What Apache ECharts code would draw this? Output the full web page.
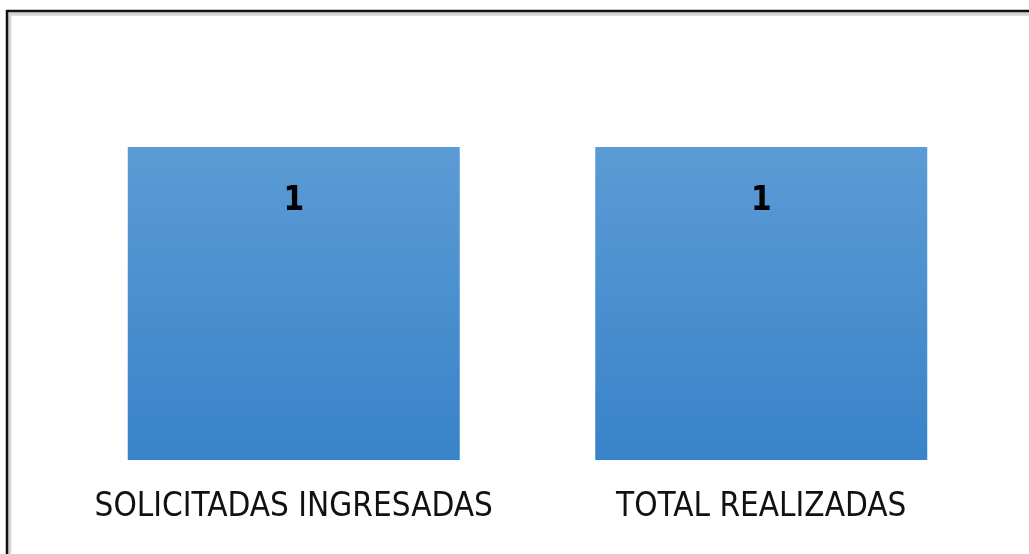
<!DOCTYPE html>
<html>
<head>
<meta charset="utf-8">
<script src="https://cdn.jsdelivr.net/npm/echarts@6/dist/echarts.min.js"></script>
<style>
  html, body { margin: 0; padding: 0; background: #fff; }
  #chart { width: 1029px; height: 554px; }
</style>
</head>
<body>
<div id="chart"></div>
<script>
var categories = ['SOLICITADAS INGRESADAS', 'TOTAL REALIZADAS'];
var values = [1, 1];

var labelFont = '"DejaVu Sans Condensed", "Liberation Sans", sans-serif';

var chart = echarts.init(document.getElementById('chart'));
chart.setOption({
  animation: false,
  backgroundColor: '#fff',
  graphic: [
    { type: 'rect', shape: { x: 9.5, y: 14, width: 1100, height: 600 },
      style: { fill: 'none', stroke: '#d4d4d4', lineWidth: 3.5 } },
    { type: 'rect', shape: { x: 7, y: 11, width: 1100, height: 600 },
      style: { fill: 'none', stroke: '#111', lineWidth: 2.5 } }
  ],
  grid: { left: 60, right: 34, top: 147, bottom: 94 },
  xAxis: {
    type: 'category',
    data: categories,
    axisLine: { show: false },
    axisTick: { show: false },
    axisLabel: {
      interval: 0,
      margin: 31,
      color: '#111',
      fontFamily: labelFont,
      fontSize: 33
    }
  },
  yAxis: { type: 'value', min: 0, max: 1, show: false, splitLine: { show: false } },
  series: [{
    type: 'bar',
    data: values,
    barWidth: 332,
    itemStyle: {
      color: new echarts.graphic.LinearGradient(0, 0, 0, 1, [
        { offset: 0, color: '#5b9bd5' },
        { offset: 1, color: '#3883c9' }
      ])
    },
    label: {
      show: true,
      position: 'insideTop',
      distance: 38,
      color: '#000',
      fontWeight: 'bold',
      fontFamily: labelFont,
      fontSize: 33
    }
  }]
});
</script>
</body>
</html>
